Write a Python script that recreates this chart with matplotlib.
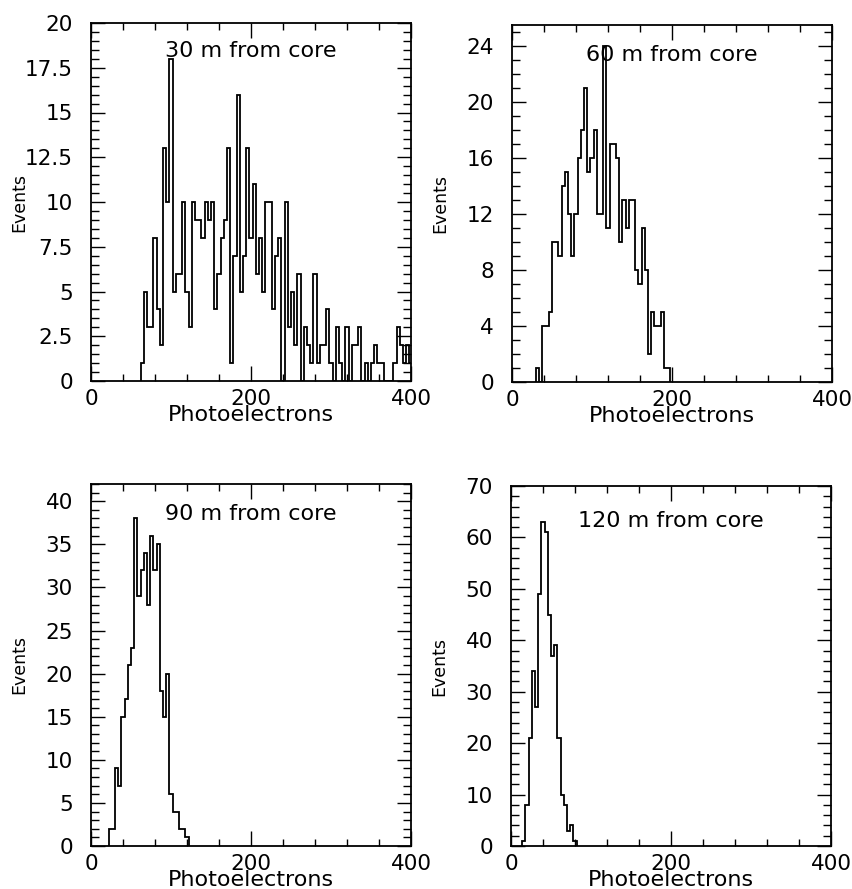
import numpy as np
import matplotlib
matplotlib.use("Agg")
import matplotlib.pyplot as plt
from matplotlib.ticker import MultipleLocator, FormatStrFormatter

# histogram bin width (photoelectrons) and first bin edge of each panel
bin_w = 4

start_30 = 62
counts_30 = [1, 5, 3, 3, 8, 4, 2, 13, 10, 18, 5, 6, 6, 10, 5, 3, 10, 9, 9, 8,
             10, 9, 10, 4, 6, 8, 9, 13, 1, 7, 16, 5, 7, 13, 8, 11, 6, 8, 5, 10,
             10, 4, 7, 8, 0, 10, 3, 5, 2, 6, 0, 3, 2, 1, 6, 1, 2, 2, 4, 1,
             0, 3, 1, 0, 3, 0, 2, 2, 3, 0, 1, 0, 1, 2, 1, 1, 0, 0, 0, 1,
             3, 2, 1, 2, 1]

start_60 = 30
counts_60 = [1, 0, 4, 4, 5, 10, 10, 9, 14, 15, 12, 9, 12, 16, 18, 21, 15, 16, 18, 12,
             12, 24, 11, 17, 17, 16, 10, 13, 11, 13, 13, 8, 7, 11, 8, 2, 5, 4, 4, 5,
             1, 1]

start_90 = 22
counts_90 = [2, 2, 9, 7, 15, 17, 21, 23, 38, 29, 32, 34, 28, 36, 32, 35, 18, 15, 20, 6,
             4, 4, 2, 2, 1]

start_120 = 14
counts_120 = [1, 8, 21, 34, 27, 49, 63, 61, 45, 37, 39, 21, 10, 8, 3, 4, 1]

titles = ["30 m from core", "60 m from core", "90 m from core", "120 m from core"]
starts = [start_30, start_60, start_90, start_120]
counts = [counts_30, counts_60, counts_90, counts_120]
ymax = [20, 25.5, 42, 70]
ymajor = [2.5, 4, 5, 10]
yminor = [0.5, 1, 1, 2]
title_y = [0.923, 0.915, 0.916, 0.904]

# axes boxes in pixels: left, top, right, bottom
W, H = 852, 889
boxes = [(91, 23, 411, 381), (512, 25, 832, 382),
         (91, 484, 411, 846), (511, 486, 831, 846)]

fig = plt.figure(figsize=(W / 100, H / 100), dpi=100)

for i in range(4):
    l, t, r, b = boxes[i]
    ax = fig.add_axes([l / W, 1 - b / H, (r - l) / W, (b - t) / H])
    c = np.array(counts[i])
    edges = starts[i] + bin_w * np.arange(len(c) + 1)
    ax.stairs(c, edges, color="black", lw=1.3)

    ax.set_xlim(0, 400)
    ax.set_ylim(0, ymax[i])
    ax.xaxis.set_major_locator(MultipleLocator(200))
    ax.xaxis.set_minor_locator(MultipleLocator(40))
    ax.yaxis.set_major_locator(MultipleLocator(ymajor[i]))
    ax.yaxis.set_minor_locator(MultipleLocator(yminor[i]))
    ax.yaxis.set_major_formatter(FormatStrFormatter("%g"))

    ax.tick_params(which="both", direction="in", top=True, right=True,
                   labelsize=15.5, width=1)
    ax.tick_params(axis="x", which="major", length=11, pad=6)
    ax.tick_params(axis="x", which="minor", length=5)
    ax.tick_params(axis="y", which="major", length=10, pad=13)
    ax.tick_params(axis="y", which="minor", length=5.5)
    for s in ax.spines.values():
        s.set_linewidth(1.3)

    ax.set_xlabel("Photoelectrons", fontsize=16)
    ax.xaxis.set_label_coords(0.5, -0.066)
    ax.set_ylabel("Events", fontsize=12.5)
    ax.yaxis.set_label_coords(-0.195, 0.5)

    ax.text(0.5, title_y[i], titles[i], transform=ax.transAxes,
            ha="center", va="center", fontsize=16)

fig.savefig("out.png", dpi=100)
